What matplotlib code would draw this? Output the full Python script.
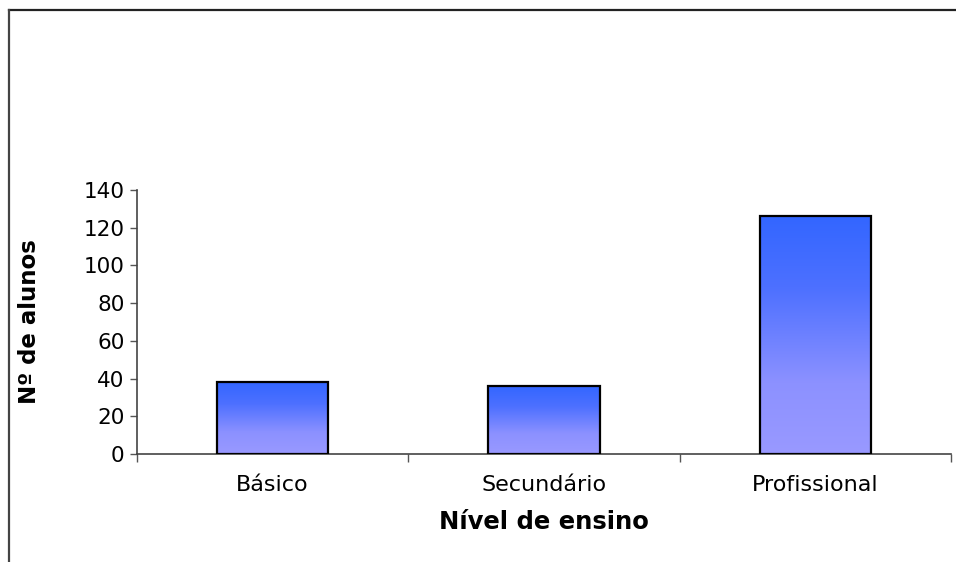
import numpy as np
import matplotlib
matplotlib.use('Agg')
import matplotlib.pyplot as plt
from matplotlib.colors import LinearSegmentedColormap
from matplotlib.lines import Line2D

# Dados
niveis = ['Básico', 'Secundário', 'Profissional']
alunos = [38, 36, 126]

plt.rcParams['font.family'] = ['DejaVu Sans']

fig = plt.figure(figsize=(9.56, 5.62), dpi=100)
ax = fig.add_axes([0.1433, 0.1922, 0.8515, 0.4697])

x = np.arange(len(niveis))
bars = ax.bar(x, alunos, width=0.41, facecolor='none', edgecolor='black',
              linewidth=1.6, zorder=3)

# Gradiente azul -> lilás em cada barra
cmap = LinearSegmentedColormap.from_list(
    'grad', [(0, '#9999ff'), (0.3, '#8c91ff'), (0.7, '#4d70ff'), (1, '#3366ff')])
grad = np.linspace(0, 1, 256).reshape(-1, 1)
for b in bars:
    x0, y0 = b.get_x(), b.get_y()
    w, h = b.get_width(), b.get_height()
    im = ax.imshow(grad, cmap=cmap, origin='lower', aspect='auto',
                   extent=[x0, x0 + w, y0, y0 + h], zorder=2)
    im.set_clip_path(b)

ax.set_xlim(-0.5, 2.5)
ax.set_ylim(0, 140)
ax.set_yticks(range(0, 141, 20))
ax.tick_params(axis='y', direction='out', length=5, width=1, colors='#555555',
               labelcolor='black', labelsize=15.5, pad=4)

ax.set_xticks(x)
ax.set_xticklabels(niveis)
ax.tick_params(axis='x', length=0, labelsize=16, pad=15)
ax.set_xticks(np.arange(-0.5, 2.6, 1), minor=True)
ax.tick_params(axis='x', which='minor', direction='out', length=6, width=1,
               colors='#555555')

for s in ['top', 'right']:
    ax.spines[s].set_visible(False)
for s in ['left', 'bottom']:
    ax.spines[s].set_color('#444444')
    ax.spines[s].set_linewidth(1.2)

ax.set_xlabel('Nível de ensino', fontsize=17.5, fontweight='bold')
ax.set_ylabel('Nº de alunos', fontsize=16.5, fontweight='bold')
ax.xaxis.set_label_coords(0.5, (454 - 522) / 264)
ax.xaxis.label.set_va('center')
ax.yaxis.set_label_coords((30 - 137) / 814, 0.5)
ax.yaxis.label.set_va('center')

# Moldura (apenas topo e esquerda visíveis)
fig.add_artist(Line2D([9 / 956, 1], [1 - 10 / 562, 1 - 10 / 562],
                      transform=fig.transFigure, color='#222222', linewidth=1.6))
fig.add_artist(Line2D([9 / 956, 9 / 956], [0, 1 - 10 / 562],
                      transform=fig.transFigure, color='#444444', linewidth=1.6))

fig.savefig('out.png', dpi=100)
